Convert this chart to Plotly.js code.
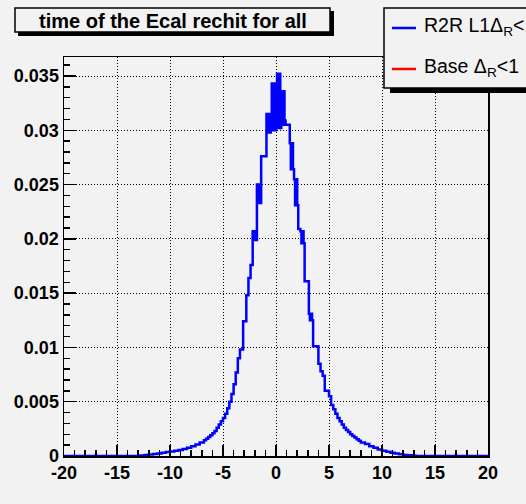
<!DOCTYPE html>
<html><head><meta charset="utf-8">
<script src="https://cdn.plot.ly/plotly-3.0.1.min.js"></script>
<style>html,body{margin:0;padding:0;background:#f2f2f2;}#chart{width:526px;height:504px;}</style>
</head><body><div id="chart"></div>
<script>
// ---- data ----
const binEdges = [-20, -12.8, -12.4, -12.0, -11.6, -11.2, -10.8, -10.4, -10.0, -9.6, -9.2, -8.8, -8.4, -8.0, -7.6, -7.2, -6.8, -6.6, -6.4, -6.2,
  -6.0, -5.8, -5.6, -5.4, -5.2, -5.0, -4.8, -4.6, -4.4, -4.2, -4.0, -3.8, -3.6, -3.4, -3.1, -2.8, -2.6, -2.4, -2.2, -2.1,
  -2.0, -1.9, -1.8, -1.7, -1.6, -1.5, -1.4, -0.9, -0.8, -0.7, -0.6, -0.5, -0.4, -0.3, -0.2, -0.1, 0.0, 0.1, 0.2, 0.3,
  0.4, 0.5, 0.6, 0.7, 0.8, 0.9, 1.0, 1.3, 1.4, 1.5, 1.6, 1.7, 1.8, 1.9, 2.0, 2.1, 2.3, 2.4, 2.5, 2.6,
  2.7, 3.1, 3.2, 3.3, 3.4, 3.5, 4.0, 4.2, 4.4, 4.6, 5.0, 5.2, 5.4, 5.6, 5.8, 6.0, 6.2, 6.4, 6.6, 6.8,
  7.0, 7.2, 7.4, 7.6, 7.8, 8.0, 8.4, 8.8, 9.2, 9.6, 10.0, 10.4, 10.8, 11.2, 11.6, 12.0, 12.4, 12.8, 13.2, 20];
const r2rValues = [0, 0.00004, 0.00009, 0.00014, 0.00019, 0.00024, 0.0003, 0.00036, 0.00042, 0.00048,
  0.00055, 0.00064, 0.00076, 0.0009, 0.00106, 0.00125, 0.00145, 0.0016, 0.00175, 0.0019,
  0.0021, 0.0023, 0.0026, 0.0029, 0.0032, 0.0035, 0.0039, 0.0044, 0.0050, 0.0057,
  0.0066, 0.0077, 0.0090, 0.0098, 0.0124, 0.0148, 0.0164, 0.0176, 0.0207, 0.0199,
  0.0207, 0.0199, 0.0250, 0.0233, 0.0250, 0.0233, 0.0276, 0.0315, 0.0298, 0.0315,
  0.0298, 0.0315, 0.0343, 0.0300, 0.0343, 0.0300, 0.0343, 0.0352, 0.0302, 0.0352,
  0.0302, 0.0336, 0.0305, 0.0336, 0.0309, 0.0305, 0.0305, 0.0288, 0.0264, 0.0288,
  0.0264, 0.0255, 0.0231, 0.0255, 0.0231, 0.0209, 0.0207, 0.0196, 0.0207, 0.0196,
  0.0161, 0.0131, 0.0125, 0.0131, 0.0125, 0.0101, 0.0085, 0.0078, 0.0074, 0.0060,
  0.0055, 0.0047, 0.0043, 0.0039, 0.0035, 0.0032, 0.0029, 0.0026, 0.0024, 0.0022,
  0.0020, 0.00185, 0.0017, 0.00155, 0.0014, 0.00125, 0.0011, 0.0009, 0.00075, 0.0006,
  0.00048, 0.00038, 0.0003, 0.00023, 0.00016, 0.0001, 0.00006, 0.00003, 0];

const xTickVals = [-20, -15, -10, -5, 0, 5, 10, 15, 20];
const xTickText = ['-20', '-15', '-10', '-5', '0', '5', '10', '15', '20'];
const yTickVals = [0, 0.005, 0.01, 0.015, 0.02, 0.025, 0.03, 0.035];
const yTickText = ['0', '0.005', '0.01', '0.015', '0.02', '0.025', '0.03', '0.035'];

const titleText = 'time of the Ecal rechit for all';
const legendLabels = ['R2R L1\u0394<sub>R</sub>&lt;1', 'Base \u0394<sub>R</sub>&lt;1'];
const legendColors = ['#0000ff', '#ff0000'];

// ---- build step curve ----
function stepXY(edges, vals) {
  const x = [], y = [];
  for (let i = 0; i < vals.length; i++) { x.push(edges[i]); y.push(vals[i]); }
  x.push(edges[edges.length - 1]); y.push(vals[vals.length - 1]);
  return {x, y};
}
const blue = stepXY(binEdges, r2rValues);

const W = 526, H = 504, L = 64, R = 38, T = 57, B = 48;
const pw = W - L - R, ph = H - T - B;
const px = v => (v - L) / pw;
const py = v => 1 - (v - T) / ph;
const FONT = 'Liberation Sans, Arial, Helvetica, sans-serif';
const BG = '#f2f2f2';

const traces = [
  {x: blue.x, y: blue.y, type: 'scatter', mode: 'lines', line: {shape: 'hv', color: legendColors[0], width: 2.5, simplify: false}, name: 'R2R', hoverinfo: 'skip'}
];

const axisCommon = {
  showline: true, linecolor: '#000', linewidth: 1.5, mirror: true,
  ticks: 'inside', tickcolor: '#000', tickwidth: 1.5,
  showgrid: true, gridcolor: '#000', gridwidth: 1, griddash: '1px,2px',
  zeroline: false, fixedrange: true, tickmode: 'array',
  tickfont: {family: FONT, size: 18, weight: 'bold', color: '#000'}
};

const layout = {
  width: W, height: H,
  margin: {l: L, r: R, t: T, b: B, pad: 0},
  paper_bgcolor: BG, plot_bgcolor: BG,
  showlegend: false,
  title: {text: titleText, font: {family: FONT, size: 20, weight: 'bold', color: '#000'},
    xref: 'container', yref: 'container', x: 173 / W, xanchor: 'center', y: 1 - 21 / H, yanchor: 'middle'},
  xaxis: Object.assign({}, axisCommon, {range: [-20, 20], tickvals: xTickVals, ticktext: xTickText, ticklen: 11,
    minor: {dtick: 1, tick0: 0, ticks: 'inside', ticklen: 6, tickcolor: '#000', tickwidth: 1.5, showgrid: false}}),
  yaxis: Object.assign({}, axisCommon, {range: [0, 0.03675], tickvals: yTickVals, ticktext: yTickText, ticklen: 12,
    minor: {dtick: 0.001, tick0: 0, ticks: 'inside', ticklen: 6, tickcolor: '#000', tickwidth: 1.5, showgrid: false}}),
  shapes: [
    // title box with shadow
    {type: 'rect', xref: 'paper', yref: 'paper', x0: px(18), x1: px(334), y0: py(11), y1: py(36), fillcolor: '#000', line: {width: 0}, layer: 'above'},
    {type: 'rect', xref: 'paper', yref: 'paper', x0: px(15), x1: px(330), y0: py(8), y1: py(32), fillcolor: BG, line: {color: '#000', width: 1.5}, layer: 'above'},
    // legend box with shadow
    {type: 'rect', xref: 'paper', yref: 'paper', x0: px(390), x1: px(560), y0: py(13), y1: py(93), fillcolor: '#000', line: {width: 0}, layer: 'above'},
    {type: 'rect', xref: 'paper', yref: 'paper', x0: px(384), x1: px(555), y0: py(8), y1: py(88), fillcolor: BG, line: {color: '#000', width: 1.5}, layer: 'above'},
    {type: 'line', xref: 'paper', yref: 'paper', x0: px(392), x1: px(416), y0: py(28), y1: py(28), line: {color: legendColors[0], width: 2.5}, layer: 'above'},
    {type: 'line', xref: 'paper', yref: 'paper', x0: px(392), x1: px(416), y0: py(69), y1: py(69), line: {color: legendColors[1], width: 2.5}, layer: 'above'}
  ],
  annotations: [
    {text: legendLabels[0], xref: 'paper', yref: 'paper', x: px(422), y: py(27), xanchor: 'left', yanchor: 'middle', showarrow: false,
      font: {family: FONT, size: 19.5, color: '#000'}},
    {text: legendLabels[1], xref: 'paper', yref: 'paper', x: px(422), y: py(67), xanchor: 'left', yanchor: 'middle', showarrow: false,
      font: {family: FONT, size: 19.5, color: '#000'}}
  ]
};

Plotly.newPlot('chart', traces, layout, {staticPlot: true, displayModeBar: false});
</script>
</body></html>
